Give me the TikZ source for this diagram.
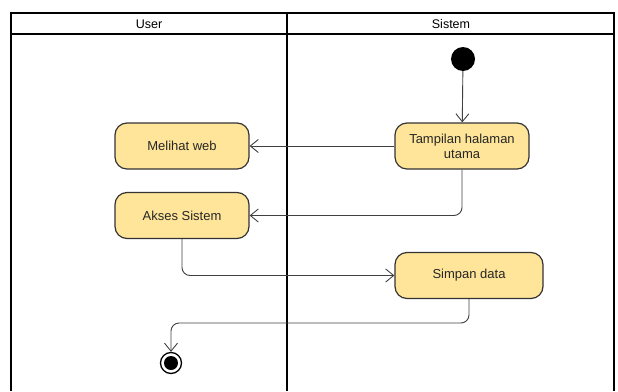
\documentclass[tikz,border=0pt]{standalone}
\usepackage{fontspec}
\setmainfont{Liberation Sans}
\usetikzlibrary{arrows.meta,positioning}
\definecolor{actfill}{HTML}{FFE599}

\begin{document}
\begin{tikzpicture}[x=1pt,y=-1pt,
      myaction/.style={
         rectangle,
         rounded corners=12pt,
         draw=black!80,
         fill=actfill,
         line width=1.2pt,
         minimum width=134pt,
         minimum height=46pt,
         align=center,
         text=black!85,
         font=\fontsize{13}{15}\selectfont},
      myarrow/.style={-{Straight Barb[length=8pt,width=13pt]},
         line width=0.9pt, draw=black!75, rounded corners=8pt},
      mylane/.style={line width=2pt},
      mytitle/.style={font=\fontsize{12.5}{14}\selectfont}
      ]
      \useasboundingbox (0,0) rectangle (618,391);

      % swimlanes
      \draw[mylane] (11,391) -- (11,13) -- (614,13) -- (614,391);
      \draw[mylane] (11,34) -- (614,34);
      \draw[mylane] (287,13) -- (287,391);
      \node[mytitle] (user) at (149,24) {User};
      \node[mytitle] (sistem) at (451,24) {Sistem};

      \node[circle,fill=black,inner sep=0pt,minimum size=24pt] (start) at (463,59) {};
      \node[myaction] (tampil) at (462,146) {Tampilan halaman\\utama};
      \node[myaction] (melihat) at (182,146) {Melihat web};
      \node[myaction] (akses) at (182,215.5) {Akses Sistem};
      \node[myaction,minimum width=148pt] (simpan) at (469,275.5) {Simpan data};
      \node[circle,draw=black,line width=1.3pt,fill=white,inner sep=0pt,minimum size=21pt,
         path picture={\fill[black] (path picture bounding box.center) circle (7pt);}] (selesai) at (171,363) {};
      \coordinate (belok) at (469,323);

    \draw [myarrow] (start) -- (tampil);
    \draw [myarrow] (tampil) -- (melihat);
    \draw [myarrow] (tampil.south) |- (akses.east);
    \draw [myarrow] (akses.south) |- (simpan.west);
    \draw [myarrow] (simpan.south) -- (belok) -| (selesai.north);

    \end{tikzpicture}
\end{document}
